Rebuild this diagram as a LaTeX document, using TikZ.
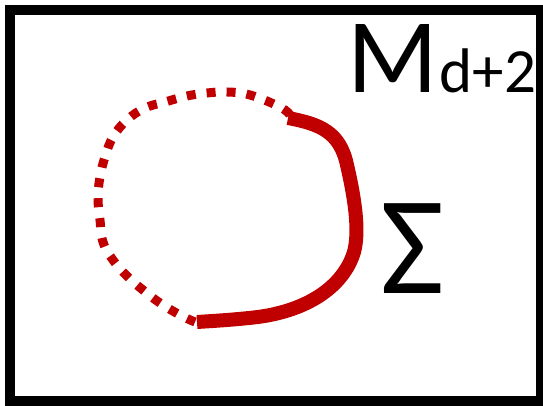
\documentclass[tikz,border=0pt]{standalone}
\usepackage{fontspec}
\setmainfont{Carlito}
\definecolor{loopred}{RGB}{192,0,0}
\begin{document}
\begin{tikzpicture}[x=1pt,y=-1pt,
  frame/.style={line width=10pt,draw=black},
  solidpart/.style={line width=14pt,draw=loopred},
  dottedpart/.style={line width=9pt,draw=loopred,dash pattern=on 9pt off 11pt},
  bigtext/.style={inner sep=0pt,outer sep=0pt,anchor=base west}]
\useasboundingbox (0,0) rectangle (543,406);
\draw[frame] (10,10) rectangle (541,401);
\draw[dottedpart] plot[smooth,tension=0.7] coordinates {(290,115) (280,107) (250,95) (227,92) (207,93) (187,96) (165,102) (145,108) (127,120) (113,137) (105,157) (100,177) (98,198) (100,220) (103,242) (113,260) (128,277) (143,290) (160,303) (180,315) (195,322)};
\draw[solidpart] (288,118) .. controls (320,124) and (340,132) .. (347,165)
  .. controls (354,195) and (360,230) .. (354,252)
  .. controls (344,285) and (310,310) .. (258,317)
  .. controls (232,320) and (212,321) .. (197,322);
\node[bigtext,font=\fontsize{106}{106}\selectfont] (M) at (347,93) {M};
\node[bigtext,font=\fontsize{63}{63}\selectfont] (sub) at ([xshift=2pt]M.base east) {d+2};
\node[bigtext,font=\fontsize{140}{140}\selectfont] (S) at (380,293) {Σ};
\end{tikzpicture}
\end{document}
